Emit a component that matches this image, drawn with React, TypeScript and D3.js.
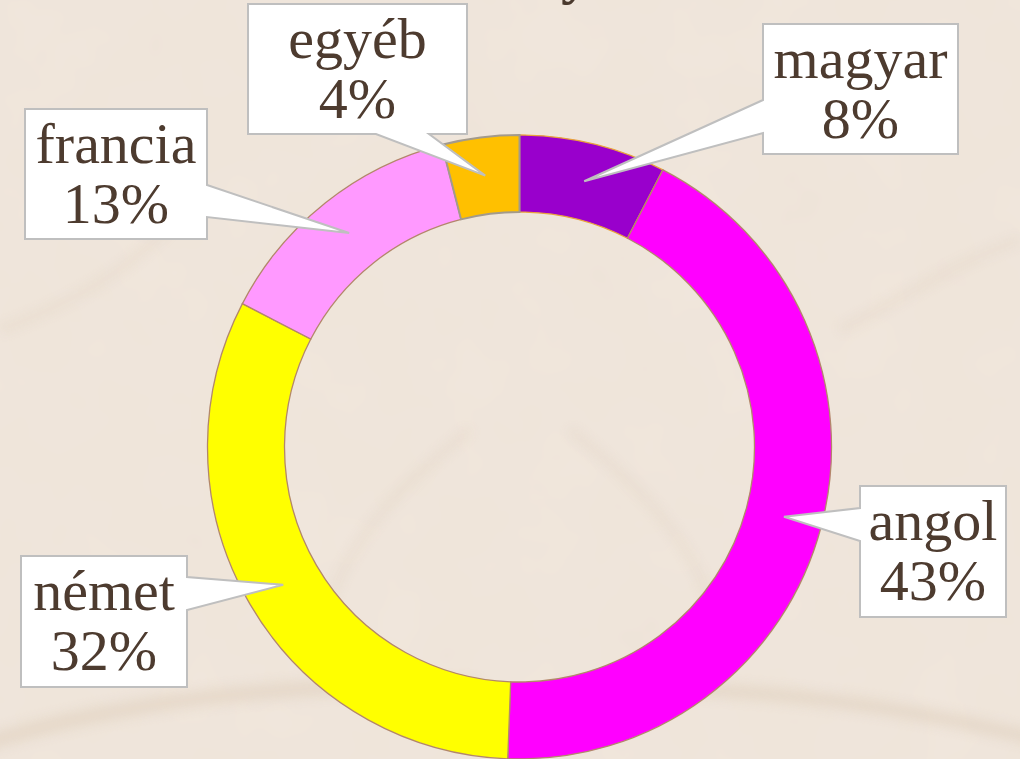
import React from "react";
import * as d3 from "d3";

// ---- data ----
const categories = ["magyar", "angol", "német", "francia", "egyéb"];
const shares = [7.6, 43.0, 32.0, 13.4, 4.0];
const pctLabels = ["8%", "43%", "32%", "13%", "4%"];
const colors = ["#9900CC", "#FF00FF", "#FFFF00", "#FF99FF", "#FFC000"];
const strokes = ["#E9A23B", "#B3876A", "#B3876A", "#B3876A", "#A39A8C"];

// ---- layout of callouts (box x,y,w,h, side of the pointer, base offsets) ----
type Side = "left" | "right" | "bottom";
const calloutBoxes: { x: number; y: number; w: number; h: number; side: Side; a: number; b: number }[] = [
  { x: 763, y: 24, w: 195, h: 130, side: "left", a: 76, b: 109 },
  { x: 860, y: 486, w: 146, h: 131, side: "left", a: 22, b: 55 },
  { x: 21, y: 556, w: 166, h: 131, side: "right", a: 21, b: 54 },
  { x: 25, y: 109, w: 182, h: 130, side: "right", a: 76, b: 108 },
  { x: 248, y: 4, w: 219, h: 130, side: "bottom", a: 128, b: 181 },
];

const W = 1020;
const H = 759;
const cx = 519.5;
const cy = 447;
const R = 312;
const r = 235;

function calloutPath(
  bx: { x: number; y: number; w: number; h: number; side: Side; a: number; b: number },
  tx: number,
  ty: number
) {
  const { x, y, w, h, side, a, b } = bx;
  if (side === "left") {
    return `M${x},${y}H${x + w}V${y + h}H${x}V${y + b}L${tx},${ty}L${x},${y + a}Z`;
  }
  if (side === "right") {
    return `M${x},${y}H${x + w}V${y + a}L${tx},${ty}L${x + w},${y + b}V${y + h}H${x}Z`;
  }
  return `M${x},${y}H${x + w}V${y + h}H${x + b}L${tx},${ty}L${x + a},${y + h}H${x}Z`;
}

export default function App() {
  const pie = d3
    .pie<number>()
    .sort(null)
    .value((d) => d)
    .startAngle(0)
    .endAngle(2 * Math.PI);
  const arcs = pie(shares);
  const arcGen = d3.arc<d3.PieArcDatum<number>>().innerRadius(r).outerRadius(R);

  return (
    <div style={{ position: "fixed", left: 0, top: 0, width: W, height: H }}>
      <svg width={W} height={H} style={{ display: "block" }}>
        <defs>
          <filter id="paper" x="0" y="0" width="100%" height="100%">
            <feTurbulence type="fractalNoise" baseFrequency="0.012" numOctaves="3" seed="4" result="n" />
            <feColorMatrix
              type="matrix"
              values="0 0 0 0 0.82  0 0 0 0 0.74  0 0 0 0 0.64  0 0 0 0.35 -0.05"
            />
          </filter>
          <filter id="soft" x="-20%" y="-20%" width="140%" height="140%">
            <feGaussianBlur stdDeviation="6" />
          </filter>
        </defs>
        <rect x={0} y={0} width={W} height={H} fill="#F0E6DC" />
        <rect x={0} y={0} width={W} height={H} filter="url(#paper)" />
        <g filter="url(#soft)" fill="none" stroke="#DCCAB6" opacity={0.45}>
          <path d="M-20,745 C120,700 300,680 480,688" strokeWidth={16} />
          <path d="M560,690 C720,682 880,700 1040,740" strokeWidth={14} />
          <path d="M0,330 C80,300 150,260 200,190" strokeWidth={8} opacity={0.6} />
          <path d="M840,330 C900,300 960,260 1020,240" strokeWidth={8} opacity={0.6} />
          <path d="M330,600 C360,520 420,470 470,430" strokeWidth={7} opacity={0.7} />
          <path d="M710,600 C680,520 620,470 570,430" strokeWidth={7} opacity={0.7} />
        </g>

        {/* clipped title glyph */}
        <text
          x={561}
          y={-8}
          fontFamily="Liberation Serif, serif"
          fontWeight="bold"
          fontSize={60}
          fill="#4B3A2E"
        >
          y
        </text>

        <g transform={`translate(${cx},${cy})`}>
          {arcs.map((a, i) => (
            <path
              key={categories[i]}
              d={arcGen(a) || ""}
              fill={colors[i]}
              stroke={strokes[i]}
              strokeWidth={i === 4 ? 2 : 1.3}
            />
          ))}
        </g>

        {arcs.map((a, i) => {
          const [mx, my] = arcGen.centroid(a);
          const tx = cx + mx;
          const ty = cy + my;
          const bx = calloutBoxes[i];
          const midX = bx.x + bx.w / 2;
          return (
            <g key={"c" + i}>
              <path d={calloutPath(bx, tx, ty)} fill="#FFFFFF" stroke="#BFBFBF" strokeWidth={2} />
              <text
                x={midX}
                y={bx.y + 54}
                textAnchor="middle"
                fontFamily="Liberation Serif, serif"
                fontSize={58}
                fill="#4D3B2F"
              >
                {categories[i]}
              </text>
              <text
                x={midX}
                y={bx.y + 114}
                textAnchor="middle"
                fontFamily="Liberation Serif, serif"
                fontSize={58}
                fill="#4D3B2F"
              >
                {pctLabels[i]}
              </text>
            </g>
          );
        })}
      </svg>
    </div>
  );
}
